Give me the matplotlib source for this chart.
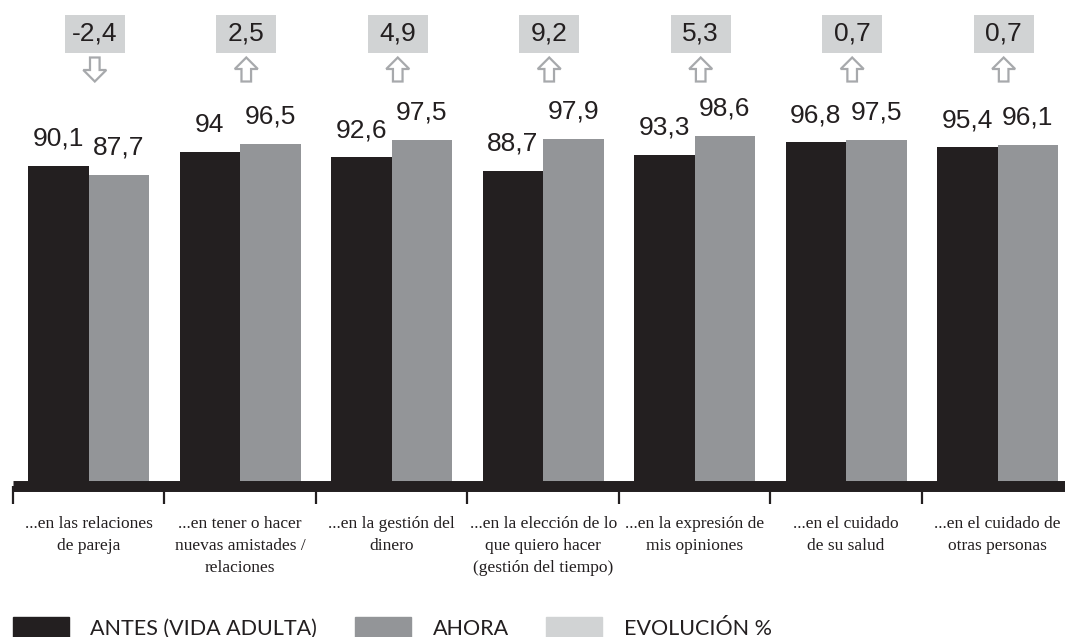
import matplotlib.pyplot as plt
import numpy as np
from matplotlib.patches import Patch, Polygon, Rectangle
from matplotlib import transforms

categories = [
    "...en las relaciones\nde pareja",
    "...en tener o hacer\nnuevas amistades /\nrelaciones",
    "...en la gestión del\ndinero",
    "...en la elección de lo\nque quiero hacer\n(gestión del tiempo)",
    "...en la expresión de\nmis opiniones",
    "...en el cuidado\nde su salud",
    "...en el cuidado de\notras personas",
]
antes = [90.1, 94.0, 92.6, 88.7, 93.3, 96.8, 95.4]
ahora = [87.7, 96.5, 97.5, 97.9, 98.6, 97.5, 96.1]
evolucion = [-2.4, 2.5, 4.9, 9.2, 5.3, 0.7, 0.7]

BLACK = "#231f20"
GRAY = "#939598"
LIGHT = "#d1d3d4"
ARROW = "#a7a9ac"


def fmt(v):
    s = f"{v:.1f}".replace(".", ",")
    return s[:-2] if s.endswith(",0") else s


W, H = 1065, 637
fig = plt.figure(figsize=(W / 100, H / 100), dpi=100)
ax = fig.add_axes([13 / W, (H - 485.5) / H, 1052 / W, 485.5 / H])

x = np.arange(len(categories))
bw = 0.40
ax.bar(x - bw / 2, antes, bw, color=BLACK, zorder=2)
ax.bar(x + bw / 2, ahora, bw, color=GRAY, zorder=2)

ax.set_xlim(-0.5, 6.445)
ax.set_ylim(0, 137)

val_font = dict(family="Liberation Sans", fontsize=19, color=BLACK)
for xi, a, b in zip(x, antes, ahora):
    ax.annotate(fmt(a), (xi - bw / 2, a), xytext=(0, 11), textcoords="offset points",
                ha="center", va="bottom", **val_font)
    ax.annotate(fmt(b), (xi + bw / 2, b), xytext=(0, 11), textcoords="offset points",
                ha="center", va="bottom", **val_font)

# evolution boxes with outline arrows
blend = transforms.blended_transform_factory(ax.transData, ax.transAxes)
box_w = 60 / 151.5
box_top, box_bot = 1 - 15 / 485.5, 1 - 53 / 485.5
for xi, ev in zip(x, evolucion):
    cx = xi + 0.04
    ax.add_patch(Rectangle((cx - box_w / 2, box_bot), box_w, box_top - box_bot,
                           transform=blend, facecolor=LIGHT, edgecolor="none",
                           clip_on=False))
    ax.text(cx, (box_top + box_bot) / 2, fmt(ev), transform=blend,
            ha="center", va="center", **val_font)
    sgn = 1 if ev >= 0 else -1
    verts = np.array([(0, 0.12), (0.115, 0.005), (0.048, 0.005), (0.048, -0.12),
                      (-0.048, -0.12), (-0.048, 0.005), (-0.115, 0.005)])
    verts[:, 1] *= sgn
    tr = fig.dpi_scale_trans + transforms.ScaledTranslation(cx, 1 - 69.5 / 485.5, blend)
    ax.add_patch(Polygon(verts, closed=True, transform=tr, facecolor="white",
                         edgecolor=ARROW, linewidth=1.6, clip_on=False))

for s in ["top", "right", "left"]:
    ax.spines[s].set_visible(False)
ax.spines["bottom"].set_linewidth(7.9)
ax.spines["bottom"].set_color(BLACK)
ax.spines["bottom"].set_capstyle("butt")
ax.set_yticks([])

ax.set_xticks(np.arange(-0.5, 6.5, 1.0))
ax.set_xticklabels([])
ax.tick_params(axis="x", which="major", length=12.6, width=1.6, color=BLACK, direction="out")
ax.set_xticks(x, minor=True)
ax.set_xticklabels(categories, minor=True, family="Liberation Serif",
                   fontsize=12.5, color=BLACK, linespacing=1.5)
ax.tick_params(axis="x", which="minor", length=0, pad=22)

handles = [Patch(color=BLACK, label="ANTES (VIDA ADULTA)"),
           Patch(color=GRAY, label="AHORA"),
           Patch(color=LIGHT, label="EVOLUCIÓN %")]
fig.legend(handles=handles, loc="upper left", bbox_to_anchor=(13 / W, 1 - 617 / H),
           ncol=3, frameon=False, borderpad=0, borderaxespad=0,
           handlelength=2.6, handleheight=1.1, handletextpad=1.0, columnspacing=1.75,
           prop=dict(family="Lato", size=15.5), labelcolor=BLACK)

fig.savefig("out.png", dpi=100)
